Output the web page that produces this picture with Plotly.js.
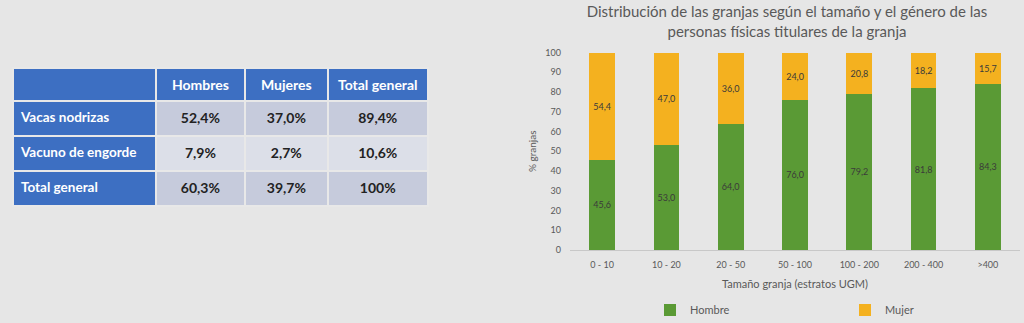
<!DOCTYPE html>
<html><head><meta charset="utf-8">
<script src="https://cdn.plot.ly/plotly-3.0.1.min.js"></script>
<style>html,body{margin:0;padding:0;background:#e6e6e6;}#chart{width:1024px;height:323px;}</style>
</head><body><div id="chart"></div>
<script>
// Table data
const tableHeader = ["", "Hombres", "Mujeres", "Total general"];
const tableRows = ["Vacas nodrizas", "Vacuno de engorde", "Total general"];
const colHombres = ["52,4%", "7,9%", "60,3%"];
const colMujeres = ["37,0%", "2,7%", "39,7%"];
const colTotal = ["89,4%", "10,6%", "100%"];

// Bar chart data
const categories = ["0 - 10", "10 - 20", "20 - 50", "50 - 100", "100 - 200", "200 - 400", ">400"];
const hombre = [45.6, 53.0, 64.0, 76.0, 79.2, 81.8, 84.3];
const mujer = [54.4, 47.0, 36.0, 24.0, 20.8, 18.2, 15.7];

const W = 1024, H = 323;
const blue = "#3d6fc2";
const cellA = "#c6cbdc", cellB = "#dcdfe8";

const table = {
  type: "table",
  domain: {x: [13/W, 428/W], y: [1 - 212/H, 1 - 68/H]},
  columnwidth: [142, 89, 82, 100],
  header: {
    values: tableHeader.map(h => "<b>" + h + "</b>"),
    align: "center",
    height: 28,
    fill: {color: blue},
    line: {color: "#e8e8e8", width: 2},
    font: {family: "Lato, 'Open Sans', sans-serif", size: 14, color: "#ffffff"}
  },
  cells: {
    values: [tableRows.map(r => "<b>" + r + "</b>"), colHombres.map(v => "<b>" + v + "</b>"), colMujeres.map(v => "<b>" + v + "</b>"), colTotal.map(v => "<b>" + v + "</b>")],
    align: ["left", "center", "center", "center"],
    height: 35,
    fill: {color: [[blue, blue, blue], [cellA, cellB, cellA], [cellA, cellB, cellA], [cellA, cellB, cellA]]},
    line: {color: "#e8e8e8", width: 2},
    font: {family: "Lato, 'Open Sans', sans-serif", size: [13.5, 14, 14, 14], color: [["#ffffff","#ffffff","#ffffff"], "#222222", "#222222", "#222222"]}
  }
};

const barFont = {family: "Lato, 'Open Sans', sans-serif", size: 9, color: "#3a3a3a"};
const tH = {
  type: "bar", name: "Hombre", x: categories, y: hombre,
  marker: {color: "#5a9a35"},
  texttemplate: "%{y:.1f}", textposition: "inside", insidetextanchor: "middle",
  textangle: 0, textfont: barFont, hoverinfo: "skip"
};
const tM = {
  type: "bar", name: "Mujer", x: categories, y: mujer,
  marker: {color: "#f4b11f"},
  texttemplate: "%{y:.1f}", textposition: "inside", insidetextanchor: "middle",
  textangle: 0, textfont: barFont, hoverinfo: "skip"
};

const grey = "#595959";
const layout = {
  width: W, height: H,
  margin: {l: 0, r: 0, t: 0, b: 0, autoexpand: false},
  paper_bgcolor: "#e6e6e6",
  plot_bgcolor: "rgba(0,0,0,0)",
  separators: ",.",
  barmode: "stack",
  bargap: 0.6,
  font: {family: "Lato, 'Open Sans', sans-serif", color: grey},
  title: {
    text: "Distribución de las granjas según el tamaño y el género de las<br>personas físicas titulares de la granja",
    x: 787/W, xanchor: "center", y: 1 - 17/H, yanchor: "middle",
    font: {size: 15, color: grey}
  },
  xaxis: {
    domain: [570/W, 1020/W],
    showline: true, linecolor: "#c8c8c8", linewidth: 1,
    ticks: "", ticklabelstandoff: 6, tickfont: {size: 9, color: grey},
    title: {text: "Tamaño granja (estratos UGM)", font: {size: 11, color: grey}, standoff: 11}
  },
  yaxis: {
    domain: [1 - 250/H, 1 - 52.5/H],
    range: [0, 100], dtick: 10,
    showgrid: false, zeroline: false, showline: false,
    ticks: "", ticklabelstandoff: 8, tickfont: {size: 9, color: grey},
    title: {text: "% granjas", font: {size: 10, color: grey}, standoff: 6}
  },
  legend: {
    orientation: "h", traceorder: "normal",
    x: 650/W, xanchor: "left", y: 1 - 310/H, yanchor: "middle",
    entrywidth: 150, entrywidthmode: "pixels",
    font: {size: 11, color: grey}, bgcolor: "rgba(0,0,0,0)"
  },
  showlegend: true
};

Plotly.newPlot("chart", [table, tH, tM], layout, {displayModeBar: false, staticPlot: true});
</script>
</body></html>
